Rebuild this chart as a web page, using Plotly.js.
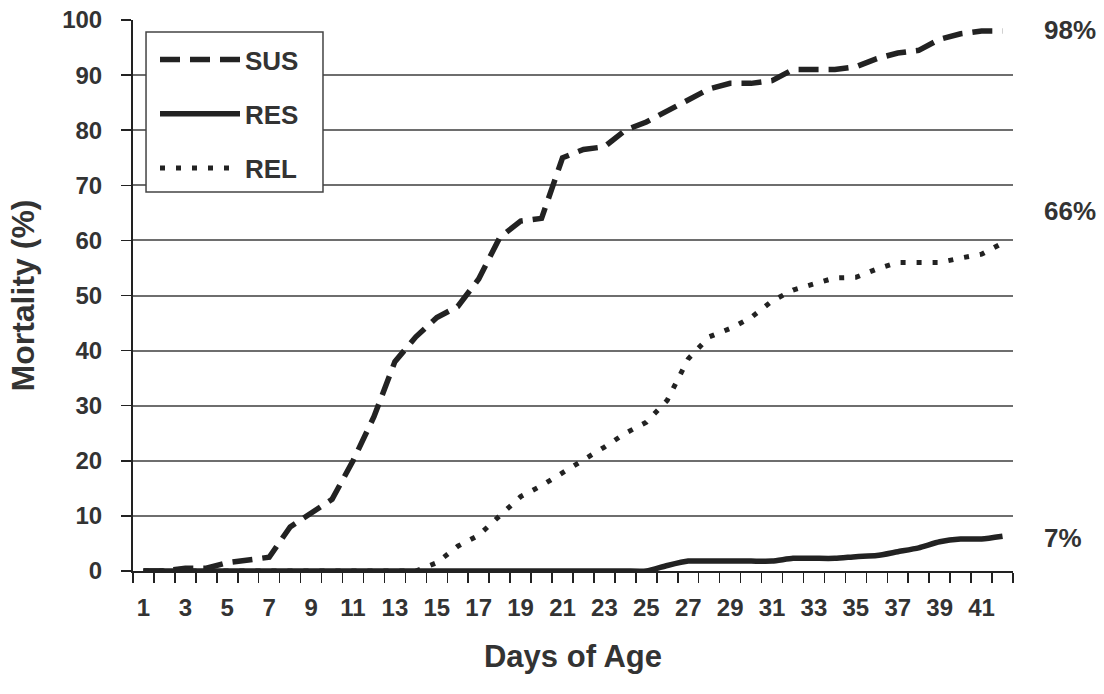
<!DOCTYPE html>
<html><head><meta charset="utf-8">
<script src="https://cdn.plot.ly/plotly-3.0.1.min.js"></script>
<style>html,body{margin:0;padding:0;background:#fff}#chart{width:1104px;height:694px}</style>
</head><body><div id="chart"></div>
<script>
const days = Array.from({length: 42}, (_, i) => i + 1);
const sus = [0,0,0.5,0.5,1.5,2,2.5,8,10.5,13,20,28,38,42.5,46,48,53,60.5,63.5,64,75,76.5,77,80,81.5,83.5,85.5,87.5,88.5,88.5,89,91,91,91,91.5,93,94,94.5,96.5,97.5,98,98];
const res = [0,0,0,0,0,0,0,0,0,0,0,0,0,0,0,0,0,0,0,0,0,0,0,0,0,1,1.8,1.8,1.8,1.8,1.8,2.3,2.3,2.3,2.6,2.8,3.5,4.2,5.3,5.8,5.8,6.3];
const rel = [0,0,0,0,0,0,0,0,0,0,0,0,0,0,1.5,4.5,6.5,10,13.5,15.5,17.8,20,22.5,25,27,31,38.5,42.5,44,46,49,51,52.2,53.2,53.3,54.8,56,56,56,56.8,57.5,59.5];
const seriesNames = ['SUS', 'RES', 'REL'];
const endLabels = ['98%', '66%', '7%'];
const endLabelY = [98.2, 65.3, 6];
const tickDays = days.filter(d => d % 2 === 1);

const ink = '#222';
const traces = [
  {x: days, y: sus, name: seriesNames[0], legendgroup: 'a', mode: 'lines', line: {color: ink, width: 5.5, dash: '20px,10px'}},
  {x: days, y: res, name: seriesNames[1], legendgroup: 'b', mode: 'lines', line: {color: ink, width: 5.5, shape: 'spline', smoothing: 0.6}},
  {x: days, y: rel, name: seriesNames[2], legendgroup: 'c', mode: 'lines', line: {color: ink, width: 5, dash: '5px,11px'}}
];
const fam = '"Liberation Sans", Arial, sans-serif';
const txt = '#333';
const layout = {
  width: 1104, height: 694,
  margin: {l: 133, r: 91, t: 20, b: 123},
  paper_bgcolor: '#fff', plot_bgcolor: '#fff',
  font: {family: fam, color: txt},
  showlegend: true,
  legend: {x: 0.025, y: 0.971, xanchor: 'left', yanchor: 'top', bgcolor: 'rgba(0,0,0,0)',
    borderwidth: 0, itemwidth: 80, tracegroupgap: 17.5,
    font: {family: fam, size: 26, color: txt, weight: 'bold'}},
  shapes: [{type: 'rect', xref: 'paper', yref: 'paper', x0: 0.0148, x1: 0.2159, y0: 0.688, y1: 0.978,
    layer: 'above', fillcolor: '#fff', line: {color: '#444', width: 1.5}}],
  xaxis: {range: [0.5, 42.5], tickmode: 'array', tickvals: tickDays, ticktext: tickDays.map(String),
    ticks: '', showgrid: false, zeroline: false, showline: true, linecolor: '#222', linewidth: 2,
    tickfont: {family: fam, size: 24, color: txt, weight: 'bold'}, ticklabelstandoff: 14,
    minor: {tickmode: 'linear', tick0: 0.5, dtick: 1, ticks: 'outside', ticklen: 10, tickwidth: 1.5, tickcolor: '#222', showgrid: false},
    title: {text: 'Days of Age', standoff: 26, font: {family: fam, size: 31, color: txt, weight: 'bold'}}},
  yaxis: {range: [0, 100], dtick: 10, ticks: 'outside', ticklen: 10, tickwidth: 1.5, tickcolor: '#222',
    showgrid: true, gridcolor: '#6e6e6e', gridwidth: 2, zeroline: false, showline: true, linecolor: '#222', linewidth: 2,
    tickfont: {family: fam, size: 24, color: txt, weight: 'bold'}, ticklabelstandoff: 14,
    title: {text: 'Mortality (%)', standoff: 18, font: {family: fam, size: 32, color: txt, weight: 'bold'}}},
  annotations: endLabels.map((t, i) => ({x: 1, xref: 'paper', xshift: 29, y: endLabelY[i], yref: 'y',
    text: t, showarrow: false, xanchor: 'left', yanchor: 'middle',
    font: {family: fam, size: 26, color: txt, weight: 'bold'}}))
};
Plotly.newPlot('chart', traces, layout, {staticPlot: true, displayModeBar: false});
</script>
</body></html>
